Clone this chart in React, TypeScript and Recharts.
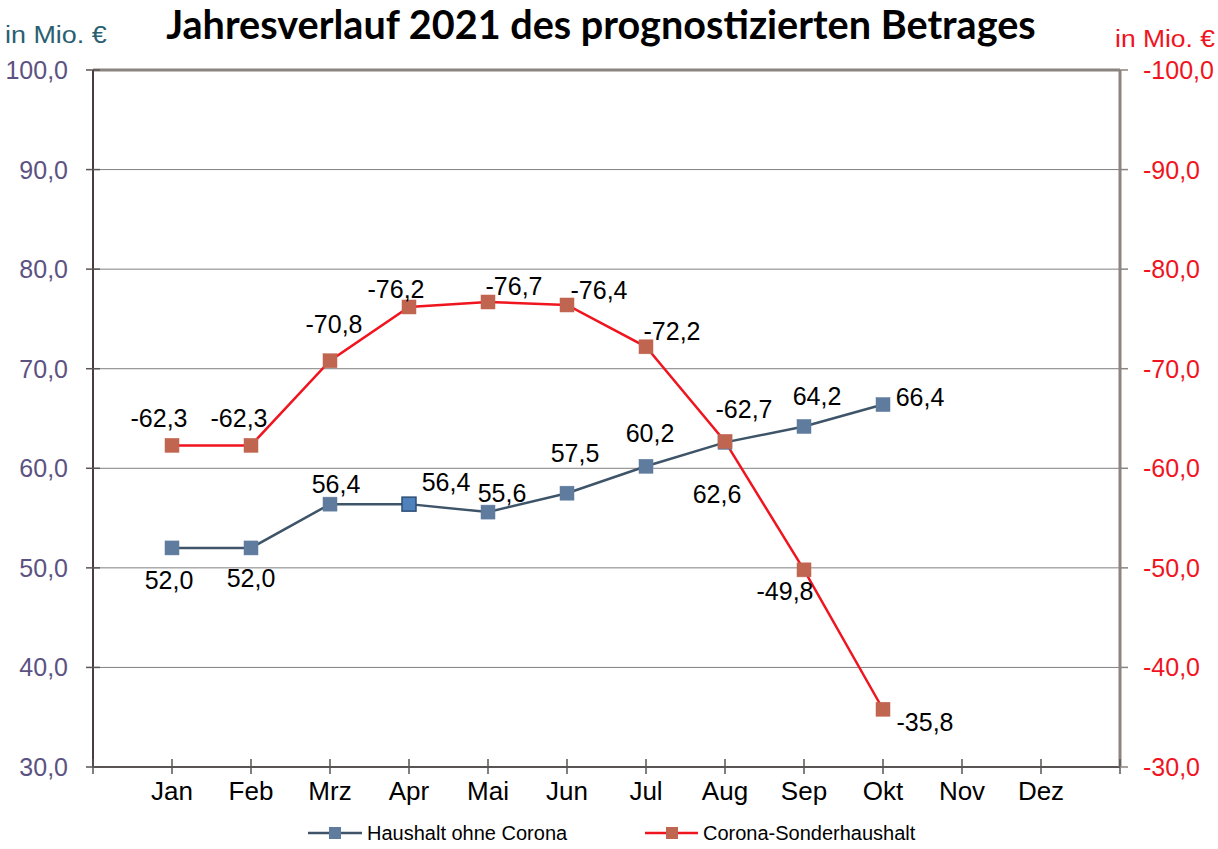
import React from 'react';
import { LineChart, Line, XAxis, YAxis, CartesianGrid, ReferenceLine, LabelList, Legend } from 'recharts';

const months = ['Jan', 'Feb', 'Mrz', 'Apr', 'Mai', 'Jun', 'Jul', 'Aug', 'Sep', 'Okt', 'Nov', 'Dez'];
const haushalt: (number | null)[] = [52.0, 52.0, 56.4, 56.4, 55.6, 57.5, 60.2, 62.6, 64.2, 66.4, null, null];
const corona: (number | null)[] = [-62.3, -62.3, -70.8, -76.2, -76.7, -76.4, -72.2, -62.7, -49.8, -35.8, null, null];
const leftTicks = [30, 40, 50, 60, 70, 80, 90, 100];
const rightTicks = [-30, -40, -50, -60, -70, -80, -90, -100];
const xTicks = [0, 1, 2, 3, 4, 5, 6, 7, 8, 9, 10, 11, 12, 13];

// label placement (offset of label centre from the point), style only
const blueLabelOffset: [number, number][] = [
  [-3, 32], [0, 30], [6, -20], [37, -22], [14, -19], [8, -40], [4, -33], [-8, 52], [13, -30], [37, -8], [0, 0], [0, 0],
];
const redLabelOffset: [number, number][] = [
  [-13, -27], [-12, -27], [4, -37], [-13, -18], [26, -16], [32, -15], [26, -16], [19, -32], [-19, 21], [42, 13], [0, 0], [0, 0],
];

const data = months.map((m, i) => ({ pos: i + 1, month: m, haushalt: haushalt[i], corona: corona[i] }));

const fmt = (v: number) => v.toFixed(1).replace('.', ',');
const FONT = '"Liberation Sans", Arial, sans-serif';

const BLUE_LINE = '#3e5468';
const BLUE_FILL = '#5f7c9f';
const RED_LINE = '#f0141e';
const RED_FILL = '#c0654f';

const XTick = (props: any) => {
  const { x, y, payload } = props;
  const idx = payload.value - 1;
  const label = idx >= 0 && idx < months.length ? months[idx] : '';
  return (
    <g>
      <line x1={x} x2={x} y1={y - 8} y2={y + 7} stroke="#5a5555" strokeWidth={1.5} />
      <text x={x} y={y + 33} textAnchor="middle" fontFamily={FONT} fontSize={26} fill="#000">{label}</text>
    </g>
  );
};

const LeftTick = (props: any) => {
  const { x, y, payload } = props;
  return (
    <g>
      <line x1={x - 7} x2={x + 7} y1={y} y2={y} stroke="#5a5555" strokeWidth={1.5} />
      <text x={x - 25} y={y} dy="0.36em" textAnchor="end" fontFamily={FONT} fontSize={25} fill="#5c5282">{fmt(payload.value)}</text>
    </g>
  );
};

const RightTick = (props: any) => {
  const { x, y, payload } = props;
  return (
    <g>
      <line x1={x} x2={x + 8} y1={y} y2={y} stroke="#8c8480" strokeWidth={1.5} />
      <text x={x + 23} y={y} dy="0.36em" textAnchor="start" fontFamily={FONT} fontSize={25} fill="#f0141e">{fmt(payload.value)}</text>
    </g>
  );
};

const makeDot = (fill: string, stroke: string, specialIdx: number | null) => (props: any) => {
  const { cx, cy, index } = props;
  if (cx == null || cy == null || props.value == null) return <g key={`d${index}`} />;
  const special = index === specialIdx;
  const s = 14;
  return (
    <rect
      key={`d${index}`}
      x={cx - s / 2}
      y={cy - s / 2}
      width={s}
      height={s}
      fill={special ? '#4f81bd' : fill}
      stroke={special ? '#2c4d75' : stroke}
      strokeWidth={special ? 1.5 : 0.5}
    />
  );
};

const makeLabel = (offsets: [number, number][]) => (props: any) => {
  const { x, y, value, index } = props;
  if (value == null || x == null || y == null) return null;
  const [dx, dy] = offsets[index] || [0, 0];
  return (
    <text key={`l${index}`} x={x + dx} y={y + dy} dy="0.36em" textAnchor="middle" fontFamily={FONT} fontSize={25} fill="#000">
      {fmt(value)}
    </text>
  );
};

const LegendContent = () => (
  <svg width={1218} height={30} style={{ display: 'block' }}>
    <line x1={308} x2={362} y1={15} y2={15} stroke={BLUE_LINE} strokeWidth={2.5} />
    <rect x={329} y={9} width={12} height={12} fill={BLUE_FILL} />
    <text x={367} y={15} dy="0.36em" fontFamily={FONT} fontSize={20} fill="#000">Haushalt ohne Corona</text>
    <line x1={645} x2={698} y1={15} y2={15} stroke={RED_LINE} strokeWidth={2.5} />
    <rect x={666} y={9} width={12} height={12} fill={RED_FILL} />
    <text x={703} y={15} dy="0.36em" fontFamily={FONT} fontSize={20} fill="#000">Corona-Sonderhaushalt</text>
  </svg>
);

export default function App() {
  return (
    <div style={{ position: 'fixed', left: 0, top: 0, width: 1218, height: 849, background: '#fff', overflow: 'hidden' }}>
      <div
        style={{
          position: 'absolute', left: 0, top: 0, width: 1218, textAlign: 'center',
          fontFamily: 'Lato, "Open Sans", sans-serif', fontWeight: 700, fontSize: 39.6, lineHeight: '47px', color: '#000',
        }}
      >
        <span style={{ position: 'relative', left: -8 }}>Jahresverlauf 2021 des prognostizierten Betrages</span>
      </div>
      <div
        style={{
          position: 'absolute', left: 5, top: 21, fontFamily: FONT, fontSize: 23, lineHeight: '28px', color: '#2a5f72',
          transform: 'scaleX(1.17)', transformOrigin: 'left center', whiteSpace: 'nowrap',
        }}
      >
        in Mio. €
      </div>
      <div
        style={{
          position: 'absolute', left: 1115, top: 25, fontFamily: FONT, fontSize: 23, lineHeight: '28px', color: '#f0141e',
          transform: 'scaleX(1.15)', transformOrigin: 'left center', whiteSpace: 'nowrap',
        }}
      >
        in Mio. €
      </div>
      <div style={{ position: 'absolute', left: 0, top: 0 }}>
        <LineChart width={1218} height={849} data={data} margin={{ top: 70, right: 8, bottom: 42, left: 25 }}>
          <CartesianGrid horizontal vertical={false} stroke="#808080" strokeWidth={1} yAxisId="left" />
          <XAxis
            dataKey="pos"
            type="number"
            domain={[0, 13]}
            ticks={xTicks}
            interval={0}
            tick={<XTick />}
            tickLine={false}
            tickSize={0}
            tickMargin={0}
            height={40}
            axisLine={{ stroke: '#5a5555', strokeWidth: 2 }}
          />
          <YAxis
            yAxisId="left"
            domain={[30, 100]}
            ticks={leftTicks}
            interval={0}
            width={68}
            tick={<LeftTick />}
            tickLine={false}
            tickSize={0}
            tickMargin={0}
            axisLine={{ stroke: '#4b3d3d', strokeWidth: 2 }}
          />
          <YAxis
            yAxisId="right"
            orientation="right"
            domain={[-100, -30]}
            reversed
            ticks={rightTicks}
            interval={0}
            width={90}
            tick={<RightTick />}
            tickLine={false}
            tickSize={0}
            tickMargin={0}
            axisLine={{ stroke: '#8c8480', strokeWidth: 3 }}
          />
          <ReferenceLine yAxisId="left" y={100} stroke="#8c8480" strokeWidth={3} />
          <Legend
            verticalAlign="middle"
            align="center"
            layout="horizontal"
            content={<LegendContent />}
            wrapperStyle={{ top: 818, left: 0, width: 1218, height: 30 }}
          />
          <Line
            yAxisId="left"
            type="linear"
            dataKey="haushalt"
            name="Haushalt ohne Corona"
            stroke={BLUE_LINE}
            strokeWidth={2.5}
            dot={makeDot(BLUE_FILL, BLUE_FILL, 3)}
            activeDot={false}
            isAnimationActive={false}
            connectNulls={false}
          >
            <LabelList dataKey="haushalt" content={makeLabel(blueLabelOffset)} />
          </Line>
          <Line
            yAxisId="right"
            type="linear"
            dataKey="corona"
            name="Corona-Sonderhaushalt"
            stroke={RED_LINE}
            strokeWidth={2.5}
            dot={makeDot(RED_FILL, RED_FILL, null)}
            activeDot={false}
            isAnimationActive={false}
            connectNulls={false}
          >
            <LabelList dataKey="corona" content={makeLabel(redLabelOffset)} />
          </Line>
        </LineChart>
      </div>
    </div>
  );
}
